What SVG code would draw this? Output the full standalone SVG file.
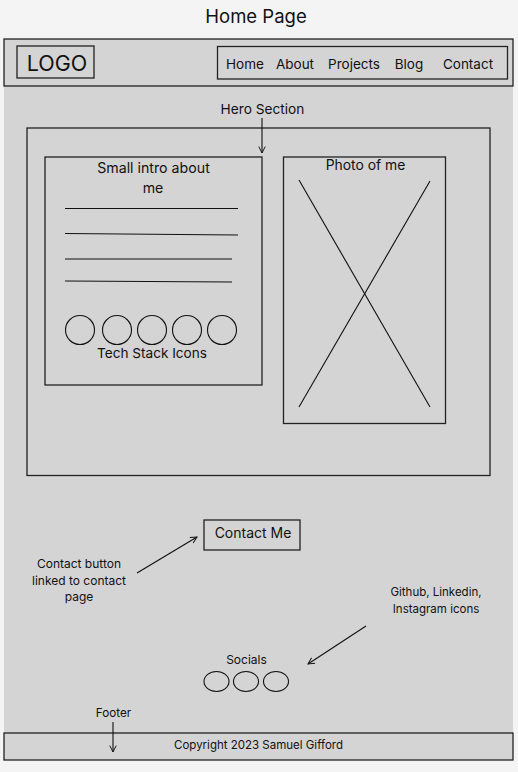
<svg xmlns="http://www.w3.org/2000/svg" width="518" height="772" viewBox="0 0 518 772">
<defs>
<style>
.t{font-family:"Inter","Noto Sans","Liberation Sans",sans-serif;fill:#111;text-anchor:middle}
.box{fill:none;stroke:#222;stroke-width:1.3}
.ln{stroke:#111;stroke-width:1.1;fill:none}
.c{fill:none;stroke:#111;stroke-width:1.1}
</style>
<marker id="ah" viewBox="0 0 10 10" refX="9" refY="5" markerWidth="8" markerHeight="8" orient="auto" markerUnits="userSpaceOnUse">
<path d="M1,1 L9,5 L1,9" fill="none" stroke="#111" stroke-width="1.2"/>
</marker>
</defs>
<rect x="0" y="0" width="518" height="772" fill="#f4f4f4"/>
<text class="t" x="256" y="23" font-size="18.5">Home Page</text>
<rect x="4" y="39" width="509" height="721" fill="#d4d4d4"/>
<g id="header">
<rect class="box" x="4" y="39" width="509" height="47"/>
</g>
<g id="logo">
<rect class="box" x="17" y="46" width="77" height="32"/>
<text class="t" x="57" y="71" font-size="21.5">LOGO</text>
</g>
<g id="nav">
<rect class="box" x="217.5" y="46.5" width="290" height="32.5"/>
<text class="t" x="245" y="69" font-size="13.5">Home</text>
<text class="t" x="295" y="69" font-size="13.5">About</text>
<text class="t" x="354" y="69" font-size="13.5">Projects</text>
<text class="t" x="409" y="69" font-size="13.5">Blog</text>
<text class="t" x="468" y="69" font-size="13.5">Contact</text>
</g>
<g id="hero">
<text class="t" x="262.5" y="114" font-size="13.7">Hero Section</text>
<rect class="box" x="27" y="128" width="463" height="347.5"/>
</g>
<g id="intro">
<rect class="box" x="45" y="157" width="217" height="228"/>
<text class="t" x="153.5" y="173" font-size="14.2">Small intro about</text>
<text class="t" x="153" y="193" font-size="14.2">me</text>
<line class="ln" x1="65" y1="208.5" x2="238" y2="208.5"/>
<line class="ln" x1="65" y1="233.5" x2="238" y2="235"/>
<line class="ln" x1="65" y1="259" x2="232" y2="259"/>
<line class="ln" x1="65" y1="281" x2="232" y2="282"/>
<circle class="c" cx="80" cy="330" r="14.5"/>
<circle class="c" cx="117" cy="330" r="14.5"/>
<circle class="c" cx="152" cy="330" r="14.5"/>
<circle class="c" cx="187" cy="330" r="14.5"/>
<circle class="c" cx="222" cy="330" r="14.5"/>
<text class="t" x="152" y="358" font-size="13.6">Tech Stack Icons</text>
</g>
<g id="photo">
<rect class="box" x="283.5" y="157" width="162" height="266.5"/>
<text class="t" x="365.5" y="170" font-size="13.9">Photo of me</text>
<line class="ln" x1="299" y1="180" x2="430" y2="407"/>
<line class="ln" x1="430" y1="181" x2="299" y2="407"/>
</g>
<g id="contact">
<rect class="box" x="204" y="520" width="96" height="30"/>
<text class="t" x="253" y="538" font-size="14">Contact Me</text>
</g>
<g id="contact-note">
<text class="t" x="79" y="568" font-size="12">Contact button</text>
<text class="t" x="79" y="585" font-size="12">linked to contact</text>
<text class="t" x="79" y="601" font-size="12">page</text>
</g>
<g id="socials-note">
<text class="t" x="436" y="596" font-size="11.5">Github, Linkedin,</text>
<text class="t" x="436" y="613" font-size="11.5">Instagram icons</text>
</g>
<g id="socials">
<text class="t" x="246.5" y="664" font-size="12">Socials</text>
<ellipse class="c" cx="216.5" cy="681.5" rx="12.5" ry="10"/>
<ellipse class="c" cx="246" cy="681.5" rx="12.5" ry="10"/>
<ellipse class="c" cx="276" cy="681.5" rx="12.5" ry="10"/>
</g>
<g id="footer">
<text class="t" x="113.5" y="717" font-size="11.7">Footer</text>
<rect class="box" x="4" y="733" width="509" height="27"/>
<text class="t" x="258.5" y="749" font-size="11.5">Copyright 2023 Samuel Gifford</text>
</g>
<g id="connectors">
<line class="ln" x1="262" y1="118" x2="262" y2="153" marker-end="url(#ah)"/>
<line class="ln" x1="137" y1="573" x2="197" y2="537" marker-end="url(#ah)"/>
<line class="ln" x1="366" y1="626" x2="308" y2="664" marker-end="url(#ah)"/>
<line class="ln" x1="113" y1="722" x2="113" y2="752" marker-end="url(#ah)"/>
</g>
</svg>
